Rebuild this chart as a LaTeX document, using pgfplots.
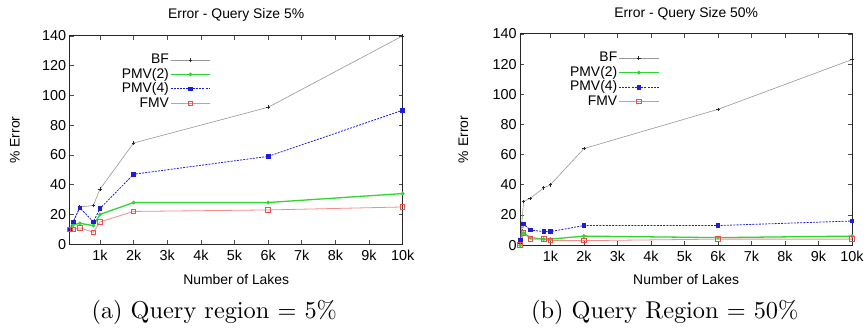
\documentclass[border=0pt]{standalone}
\usepackage{fontspec}
\usepackage{pgfplots}
\pgfplotsset{compat=1.18}
\newfontfamily\plotfont{Liberation Sans}
\newfontfamily\capfont{lmroman10-regular}[Extension=.otf]
\definecolor{bfgray}{RGB}{150,150,150}
\definecolor{bfmark}{RGB}{40,40,40}
\definecolor{pgreen}{RGB}{45,215,45}
\definecolor{pblue}{RGB}{30,30,215}
\definecolor{fred}{RGB}{235,80,80}
\definecolor{fline}{RGB}{245,140,140}
\pgfplotsset{
  lakes/.style={
    scale only axis, anchor=south west,
    xmin=100, xmax=10000, ymin=0, ymax=140,
    xtick={1000,2000,3000,4000,5000,6000,7000,8000,9000,10000},
    xticklabels={1k,2k,3k,4k,5k,6k,7k,8k,9k,10k},
    ytick={0,20,40,60,80,100,120,140},
    scaled x ticks=false,
    tick align=inside, major tick length=4bp,
    axis line style={line width=0.8bp, black!85},
    every tick/.style={black!70, line width=0.6bp},
    font=\fontsize{14}{16}\plotfont,
    tick label style={font=\fontsize{14.5}{16}\plotfont},
    /pgf/number format/assume math mode=true,
    xticklabel style={yshift=-2bp},
    xlabel={Number of Lakes}, ylabel={\% Error},
    legend cell align=right, legend plot pos=right,
    legend style={draw=none, fill=none, inner sep=0pt, row sep=0pt,
      font=\fontsize{14}{15}\plotfont,
      nodes={inner sep=1bp, text height=10bp, text depth=2.5bp},
      anchor=north east},
    legend image code/.code={\draw[mark repeat=2,mark phase=2,##1] plot coordinates {(0bp,0bp)(20bp,0bp)(40bp,0bp)};},
  },
  bf/.style={color=bfgray, line width=0.6bp, mark=+, mark size=1.8bp, mark options={draw=bfmark, solid, line width=0.7bp}},
  pmvtwo/.style={color=pgreen, line width=1.3bp, mark=*, mark size=1.2bp, mark options={solid}},
  pmvfour/.style={color=pblue, line width=0.8bp, dash pattern=on 2bp off 1.2bp, mark=square*, mark size=1.8bp, mark options={solid}},
  fmv/.style={color=fline, line width=0.8bp, mark=square, mark size=2.3bp, mark options={draw=fred, solid, line width=0.9bp}},
}
\begin{document}
\begin{tikzpicture}
\path (0,0) rectangle (867bp,331bp);
\begin{axis}[lakes, at={(70bp,86bp)}, width=334bp, height=209bp,
  title={Error - Query Size 5\%},
  title style={at={(axis description cs:0.5,1.07)}, anchor=center},
  xlabel style={at={(axis description cs:0.5,-0.168)}, anchor=center},
  ylabel style={at={(axis description cs:-0.165,0.5)}, anchor=center},
  legend style={at={(axis description cs:0.425,0.92)}}]
\addplot[bf] coordinates {(100,10)(200,15)(400,25)(800,26)(1000,37)(2000,68)(6000,92)(10000,140)};
\addlegendentry{BF}
\addplot[pmvtwo] coordinates {(100,10)(200,13)(400,14)(800,12.5)(1000,20)(2000,28)(6000,28)(10000,34)};
\addlegendentry{PMV(2)}
\addplot[pmvfour] coordinates {(100,10)(200,15)(400,24.5)(800,15)(1000,24)(2000,47)(6000,59)(10000,90)};
\addlegendentry{PMV(4)}
\addplot[fmv] coordinates {(100,10)(200,10)(400,11)(800,8)(1000,15)(2000,22)(6000,23)(10000,25)};
\addlegendentry{FMV}
\end{axis}
\begin{axis}[lakes, at={(522bp,85bp)}, width=333bp, height=212bp,
  title={Error - Query Size 50\%},
  title style={at={(axis description cs:0.5,1.065)}, anchor=center},
  xlabel style={at={(axis description cs:0.5,-0.165)}, anchor=center},
  ylabel style={at={(axis description cs:-0.171,0.5)}, anchor=center},
  legend style={at={(axis description cs:0.42,0.92)}}]
\addplot[bf] coordinates {(100,1)(200,29)(400,31)(800,38)(1000,40)(2000,64)(6000,90)(10000,123)};
\addlegendentry{BF}
\addplot[pmvtwo] coordinates {(100,0)(200,8)(400,5)(800,4)(1000,4)(2000,6)(6000,5)(10000,6)};
\addlegendentry{PMV(2)}
\addplot[pmvfour] coordinates {(100,3)(200,14)(400,10)(800,9)(1000,9)(2000,13)(6000,13)(10000,16)};
\addlegendentry{PMV(4)}
\addplot[fmv] coordinates {(100,0)(200,8)(400,4)(800,4)(1000,3)(2000,3)(6000,4)(10000,4)};
\addlegendentry{FMV}
\end{axis}
\node[font=\fontsize{24.5}{28}\capfont] at (215bp,18bp) {(a) Query region = 5\%};
\node[font=\fontsize{24.5}{28}\capfont] at (667bp,18bp) {(b) Query Region = 50\%};
\end{tikzpicture}
\end{document}
